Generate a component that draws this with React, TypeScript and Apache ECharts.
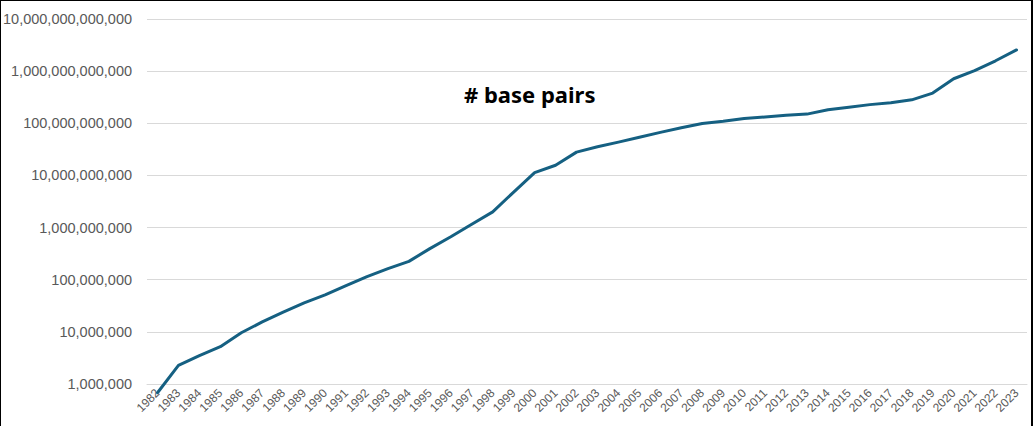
import React, { useEffect, useRef } from "react";
import * as echarts from "echarts";

const years: string[] = [
  "1982", "1983", "1984", "1985", "1986", "1987", "1988", "1989", "1990", "1991",
  "1992", "1993", "1994", "1995", "1996", "1997", "1998", "1999", "2000", "2001",
  "2002", "2003", "2004", "2005", "2006", "2007", "2008", "2009", "2010", "2011",
  "2012", "2013", "2014", "2015", "2016", "2017", "2018", "2019", "2020", "2021",
  "2022", "2023",
];

const basePairs: number[] = [
  680000, 2270000, 3500000, 5200000, 9600000, 15500000, 24000000, 36000000, 51000000, 77000000,
  115000000, 163000000, 225000000, 395000000, 665000000, 1160000000, 2000000000, 4800000000, 11300000000, 15700000000,
  28000000000, 35500000000, 43500000000, 54000000000, 67000000000, 82000000000, 99000000000, 109000000000, 123000000000, 132000000000,
  142000000000, 150000000000, 182000000000, 202000000000, 228000000000, 247000000000, 282000000000, 380000000000, 715000000000, 1020000000000,
  1580000000000, 2550000000000,
];

const yMin = 1e6;
const yMax = 1e13;
const titleText = "# base pairs";

export default function App() {
  const ref = useRef<HTMLDivElement>(null);
  useEffect(() => {
    if (!ref.current) return;
    const chart = echarts.init(ref.current, null, { renderer: "svg" });
    chart.setOption({
      animation: false,
      backgroundColor: "#ffffff",
      title: {
        text: titleText,
        left: 459,
        top: 78,
        textStyle: {
          fontFamily: "Noto Sans",
          fontWeight: "bold",
          fontSize: 22,
          color: "#000000",
        },
      },
      grid: { left: 147, right: 6, top: 19, bottom: 42, containLabel: false },
      xAxis: {
        type: "category",
        data: years,
        boundaryGap: true,
        axisLine: { show: true, lineStyle: { color: "#d9d9d9", width: 1 } },
        axisTick: { show: false },
        axisLabel: {
          interval: 0,
          rotate: 45,
          margin: 7,
          fontFamily: "Liberation Sans",
          fontSize: 12,
          color: "#595959",
        },
      },
      yAxis: {
        type: "log",
        logBase: 10,
        min: yMin,
        max: yMax,
        splitNumber: 7,
        axisLine: { show: false },
        axisTick: { show: false },
        splitLine: { show: true, lineStyle: { color: "#d9d9d9", width: 1 } },
        axisLabel: {
          margin: 15,
          fontFamily: "Liberation Sans",
          fontSize: 14.5,
          color: "#595959",
          formatter: (v: number) => Math.round(v).toLocaleString("en-US"),
        },
      },
      series: [
        {
          type: "line",
          data: basePairs,
          clip: false,
          showSymbol: false,
          symbol: "none",
          lineStyle: { color: "#156082", width: 3, cap: "round", join: "round" },
        },
      ],
    });
    return () => chart.dispose();
  }, []);
  return (
    <div style={{ position: "fixed", left: 0, top: 0, width: 1033, height: 426 }}>
      <div ref={ref} style={{ width: 1033, height: 426 }} />
      <div
        style={{
          position: "absolute",
          left: 0,
          top: 0,
          width: 1033,
          height: 426,
          boxSizing: "border-box",
          borderLeft: "1px solid #000",
          borderTop: "1px solid #000",
          borderRight: "2px solid #000",
          pointerEvents: "none",
        }}
      />
    </div>
  );
}
